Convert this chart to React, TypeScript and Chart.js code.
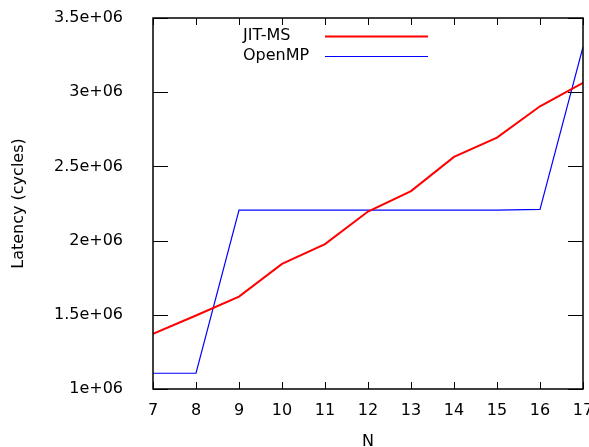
import React, { useEffect, useRef } from "react";
import { Chart, registerables } from "chart.js";

Chart.register(...registerables);

const nValues = [7, 8, 9, 10, 11, 12, 13, 14, 15, 16, 17];
const jitMs = [1371000, 1495000, 1623000, 1843000, 1976000, 2196000, 2334000, 2564000, 2694000, 2905000, 3063000];
const openMp = [1106000, 1106000, 2206000, 2206000, 2206000, 2206000, 2206000, 2206000, 2206000, 2210000, 3306000];
const seriesLabels = ["JIT-MS", "OpenMP"];
const yTickLabel = (v: number) => `${v / 1e6}e+06`;

const FONT = "'DejaVu Sans', sans-serif";

const zeroPad = (s: any) => {
  s.paddingTop = 0;
  s.paddingBottom = 0;
  s.paddingLeft = 0;
  s.paddingRight = 0;
};

const framePlugin = {
  id: "frame",
  afterDatasetsDraw(chart: any) {
    const { ctx, chartArea: a, scales } = chart;
    const xs = scales.x;
    const ys = scales.y;
    ctx.save();
    ctx.strokeStyle = "#000";
    ctx.lineWidth = 1;
    ctx.beginPath();
    xs.ticks.forEach((t: any) => {
      const px = Math.round(xs.getPixelForValue(t.value)) + 0.5;
      ctx.moveTo(px, a.bottom);
      ctx.lineTo(px, a.bottom - 7);
      ctx.moveTo(px, a.top);
      ctx.lineTo(px, a.top + 7);
    });
    ys.ticks.forEach((t: any) => {
      const py = Math.round(ys.getPixelForValue(t.value)) + 0.5;
      ctx.moveTo(a.left, py);
      ctx.lineTo(a.left + 15, py);
      ctx.moveTo(a.right, py);
      ctx.lineTo(a.right - 15, py);
    });
    ctx.stroke();
    ctx.lineWidth = 1.5;
    ctx.strokeRect(a.left, a.top, a.right - a.left, a.bottom - a.top);
    ctx.font = `16px ${FONT}`;
    ctx.fillStyle = "#000";
    ctx.textAlign = "left";
    ctx.textBaseline = "middle";
    chart.data.datasets.forEach((ds: any, i: number) => {
      const y = 36 + i * 20;
      ctx.fillText(ds.label, 243, y);
      ctx.strokeStyle = ds.borderColor;
      ctx.lineWidth = ds.borderWidth;
      ctx.beginPath();
      ctx.moveTo(325, y + 0.5);
      ctx.lineTo(428, y + 0.5);
      ctx.stroke();
    });
    ctx.restore();
  },
};

export default function App() {
  const ref = useRef<HTMLCanvasElement | null>(null);
  useEffect(() => {
    if (!ref.current) return;
    const chart = new Chart(ref.current, {
      type: "line",
      data: {
        datasets: [
          {
            label: seriesLabels[0],
            data: nValues.map((n, i) => ({ x: n, y: jitMs[i] })),
            borderColor: "#ff0000",
            borderWidth: 2,
            pointRadius: 0,
            tension: 0,
          },
          {
            label: seriesLabels[1],
            data: nValues.map((n, i) => ({ x: n, y: openMp[i] })),
            borderColor: "#0000ff",
            borderWidth: 1.2,
            pointRadius: 0,
            tension: 0,
          },
        ],
      },
      options: {
        animation: false,
        responsive: false,
        maintainAspectRatio: false,
        layout: { padding: { top: 18, right: 6, left: 0, bottom: 0 } },
        plugins: { legend: { display: false }, tooltip: { enabled: false } },
        scales: {
          x: {
            type: "linear",
            min: 7,
            max: 17,
            ticks: { stepSize: 1, color: "#000", font: { family: FONT, size: 16 }, padding: 12, maxRotation: 0, autoSkip: false },
            grid: { display: false, drawTicks: false },
            border: { display: false },
            title: { display: true, text: "N", color: "#000", font: { family: FONT, size: 16, lineHeight: 0.6 }, padding: 0 },
            afterFit: (s: any) => { s.height = 58; zeroPad(s); },
          },
          y: {
            type: "linear",
            min: 1000000,
            max: 3500000,
            ticks: { stepSize: 500000, color: "#000", font: { family: FONT, size: 16 }, padding: 30, callback: (v: any) => yTickLabel(Number(v)) },
            grid: { display: false, drawTicks: false },
            border: { display: false },
            title: { display: true, text: "Latency (cycles)", color: "#000", font: { family: FONT, size: 16, lineHeight: 1.2 }, padding: { top: 9, bottom: 0 } },
            afterFit: (s: any) => { s.width = 153; zeroPad(s); },
          },
        },
      },
      plugins: [framePlugin],
    });
    return () => chart.destroy();
  }, []);
  return (
    <div style={{ position: "fixed", left: 0, top: 0, width: 589, height: 447, background: "#fff" }}>
      <canvas ref={ref} width={589} height={447} style={{ width: 589, height: 447 }} />
    </div>
  );
}
